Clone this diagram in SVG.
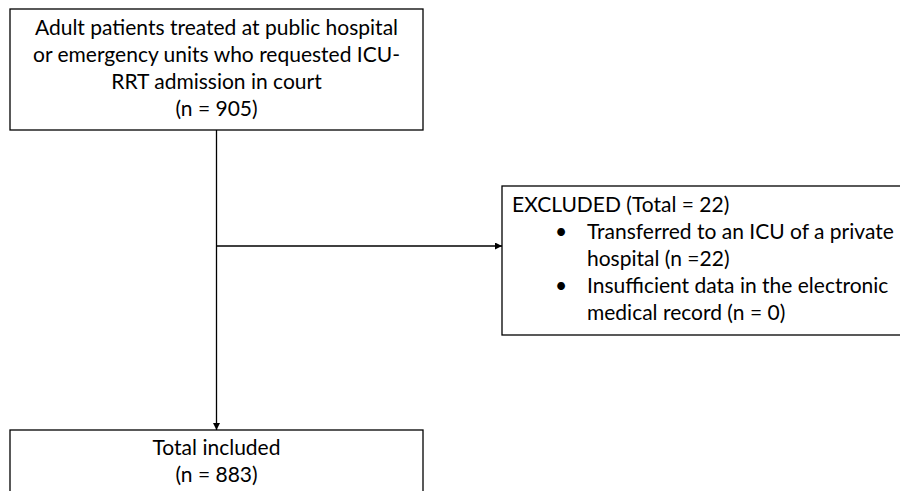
<svg xmlns="http://www.w3.org/2000/svg" width="900" height="491" viewBox="0 0 900 491">
<style>
.box{fill:#fff;stroke:#000;stroke-width:1.3}
.t{font-family:Lato,"Open Sans","Liberation Sans",sans-serif;font-size:21px;fill:#000}
.c{text-anchor:middle}
.ln{fill:none;stroke:#000;stroke-width:1.3}
</style>
<defs>
<marker id="ah" viewBox="0 0 10 10" refX="10" refY="5" markerWidth="7" markerHeight="7" markerUnits="userSpaceOnUse" orient="auto"><path d="M0,0 L10,5 L0,10 z" fill="#000"/></marker>
</defs>
<rect width="900" height="491" fill="#fff"/>
<g id="connectors">
<path class="ln" d="M216.5,130 V430" marker-end="url(#ah)"/>
<path class="ln" d="M216.5,246 H502" marker-end="url(#ah)"/>
</g>
<g id="start">
<rect class="box" x="10" y="9" width="413" height="121"/>
<text class="t c" x="216.5" y="35">Adult patients treated at public hospital</text>
<text class="t c" x="216.5" y="62">or emergency units who requested ICU-</text>
<text class="t c" x="216.5" y="89">RRT admission in court</text>
<text class="t c" x="216.5" y="116">(n = 905)</text>
</g>
<g id="excluded">
<rect class="box" x="502" y="186" width="410" height="149"/>
<text class="t" x="512" y="212">EXCLUDED (Total = 22)</text>
<text class="t" x="555" y="239">•</text>
<text class="t" x="587" y="239">Transferred to an ICU of a private</text>
<text class="t" x="587" y="266">hospital (n =22)</text>
<text class="t" x="555" y="293">•</text>
<text class="t" x="587" y="293">Insufficient data in the electronic</text>
<text class="t" x="587" y="320">medical record (n = 0)</text>
</g>
<g id="included">
<rect class="box" x="10" y="430" width="413" height="80"/>
<text class="t c" x="216.5" y="455">Total included</text>
<text class="t c" x="216.5" y="482">(n = 883)</text>
</g>
</svg>
